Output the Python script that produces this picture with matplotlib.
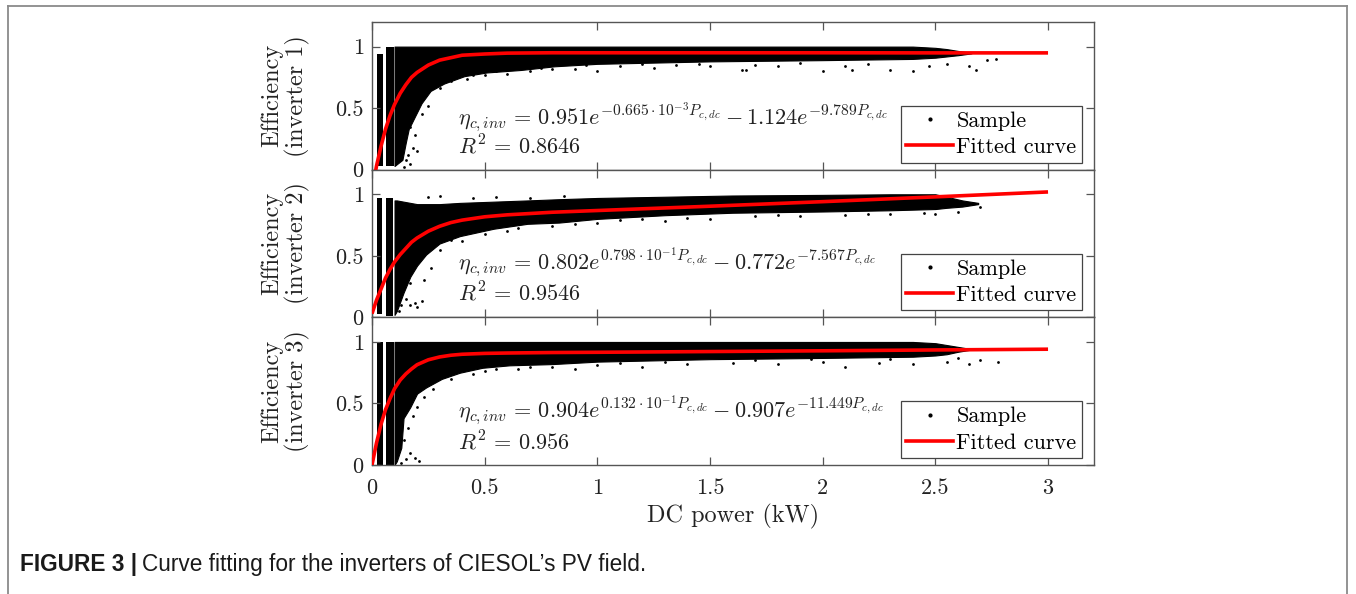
import matplotlib
matplotlib.use("Agg")
import matplotlib.pyplot as plt
from matplotlib.lines import Line2D
import numpy as np

plt.rcParams['font.family'] = 'serif'
plt.rcParams['font.serif'] = ['cmr10']
plt.rcParams['mathtext.fontset'] = 'cm'
plt.rcParams['axes.unicode_minus'] = False
plt.rcParams['axes.formatter.use_mathtext'] = True

# fitted curves
fit_x = [0, 0.02, 0.04, 0.06, 0.08, 0.1, 0.125, 0.15, 0.175, 0.2, 0.25, 0.3,
         0.35, 0.4, 0.5, 0.6, 0.8, 1.0, 1.5, 2.0, 2.5, 3.0]
fit_1 = [-0.17, 0.03, 0.19, 0.33, 0.44, 0.53, 0.62, 0.69, 0.75, 0.79, 0.85, 0.89,
         0.91, 0.93, 0.94, 0.947, 0.95, 0.95, 0.95, 0.95, 0.949, 0.949]
fit_2 = [0.03, 0.14, 0.23, 0.32, 0.39, 0.45, 0.51, 0.56, 0.61, 0.645, 0.70, 0.74,
         0.77, 0.79, 0.817, 0.833, 0.854, 0.868, 0.903, 0.94, 0.979, 1.019]
fit_3 = [0.0, 0.18, 0.33, 0.45, 0.54, 0.62, 0.69, 0.74, 0.78, 0.815, 0.855, 0.878,
         0.892, 0.90, 0.907, 0.91, 0.914, 0.916, 0.922, 0.928, 0.935, 0.941]

# dense sample cloud: envelope of the black band
band1_x = [0.100, 0.135, 0.15, 0.163, 0.19, 0.22, 0.26, 0.32, 0.41, 0.51, 0.66, 0.81,
           1.0, 1.5, 2.0, 2.4, 2.5, 2.55, 2.6, 2.66]
band1_lo = [0.03, 0.08, 0.22, 0.33, 0.43, 0.54, 0.64, 0.70, 0.76, 0.79, 0.81, 0.84,
            0.86, 0.88, 0.89, 0.90, 0.91, 0.92, 0.93, 0.945]
band1_hi = [1.0, 1.0, 1.0, 1.0, 1.0, 1.0, 1.0, 1.0, 1.0, 1.0, 1.0, 1.0,
            1.0, 1.0, 1.0, 1.0, 0.99, 0.98, 0.965, 0.95]

band2_x = [0.1, 0.11, 0.14, 0.17, 0.2, 0.24, 0.3, 0.39, 0.54, 0.69, 0.83, 1.0,
           1.3, 1.6, 2.0, 2.3, 2.5, 2.55, 2.62, 2.69]
band2_lo = [0.02, 0.05, 0.20, 0.33, 0.42, 0.51, 0.60, 0.66, 0.72, 0.76, 0.77, 0.80,
            0.83, 0.85, 0.86, 0.87, 0.88, 0.89, 0.90, 0.92]
band2_hi = [0.95, 0.95, 0.94, 0.93, 0.92, 0.92, 0.92, 0.93, 0.94, 0.95, 0.96, 0.97,
            0.98, 0.99, 0.995, 1.0, 1.0, 0.98, 0.95, 0.93]

band3_x = [0.1, 0.11, 0.13, 0.14, 0.17, 0.2, 0.24, 0.31, 0.39, 0.49, 0.61, 0.8,
           1.0, 1.5, 2.0, 2.4, 2.5, 2.55, 2.6, 2.65]
band3_lo = [0.0, 0.03, 0.14, 0.38, 0.47, 0.58, 0.63, 0.70, 0.75, 0.79, 0.81, 0.82,
            0.84, 0.86, 0.87, 0.88, 0.89, 0.90, 0.92, 0.935]
band3_hi = [1.0, 1.0, 1.0, 1.0, 1.0, 1.0, 1.0, 1.0, 1.0, 1.0, 1.0, 1.0,
            1.0, 1.0, 1.0, 1.0, 0.99, 0.975, 0.96, 0.945]

# vertical spikes at very low power: left edge, right edge, bottom, top
spike1_x0 = [0.02, 0.064]
spike1_x1 = [0.05, 0.097]
spike1_lo = [0.03, 0.03]
spike1_hi = [0.94, 1.0]

spike2_x0 = [0.021, 0.061]
spike2_x1 = [0.045, 0.095]
spike2_lo = [0.03, 0.01]
spike2_hi = [0.97, 0.97]

spike3_x0 = [0.021, 0.063]
spike3_x1 = [0.05, 0.097]
spike3_lo = [0.0, 0.0]
spike3_hi = [1.0, 1.0]

# scattered samples outside the band
out1_x = [0.14, 0.15, 0.16, 0.17, 0.18, 0.2, 0.13, 0.15, 0.17, 0.19, 0.22, 0.25,
          0.3, 0.35, 0.42, 0.5, 0.6, 0.7, 0.8, 0.9, 1.0, 1.1, 1.25, 1.35, 1.5,
          1.64, 1.66, 1.8, 2.0, 2.1, 2.13, 2.3, 2.4, 2.47, 2.65, 2.68, 2.73, 2.77,
          0.45, 0.55, 0.75, 0.95, 1.2, 1.45, 1.7, 1.9, 2.2, 2.55]
out1_y = [0.02, 0.08, 0.12, 0.05, 0.18, 0.15, 0.22, 0.3, 0.35, 0.28, 0.45, 0.52,
          0.66, 0.72, 0.74, 0.77, 0.78, 0.80, 0.82, 0.82, 0.80, 0.84, 0.83, 0.85, 0.84,
          0.81, 0.81, 0.84, 0.80, 0.84, 0.81, 0.81, 0.80, 0.84, 0.84, 0.81, 0.89, 0.90,
          0.77, 0.80, 0.83, 0.85, 0.86, 0.86, 0.85, 0.87, 0.86, 0.86]

out2_x = [0.12, 0.13, 0.15, 0.17, 0.19, 0.22, 0.2, 0.23, 0.26, 0.17,
          0.3, 0.4, 0.5, 0.6, 0.8, 1.0, 1.2, 1.3, 1.5, 1.7, 1.9, 2.1, 2.3, 2.45,
          2.6, 2.7, 0.25, 0.3, 0.45, 0.55, 0.7, 0.85,
          0.35, 0.65, 0.9, 1.1, 1.4, 1.8, 2.2, 2.5]
out2_y = [0.05, 0.10, 0.15, 0.10, 0.12, 0.13, 0.08, 0.30, 0.40, 0.28,
          0.55, 0.62, 0.68, 0.70, 0.74, 0.77, 0.80, 0.78, 0.80, 0.82, 0.82, 0.83, 0.84, 0.85,
          0.86, 0.90, 0.98, 0.99, 0.97, 0.98, 0.97, 0.99,
          0.63, 0.73, 0.76, 0.79, 0.81, 0.83, 0.84, 0.84]

out3_x = [0.13, 0.15, 0.17, 0.19, 0.21, 0.14, 0.16, 0.18, 0.2, 0.23, 0.27,
          0.35, 0.45, 0.55, 0.65, 0.8, 0.9, 1.0, 1.2, 1.4, 1.6, 1.8, 2.0, 2.1,
          2.25, 2.4, 2.55, 2.65, 2.7, 2.78,
          0.5, 0.7, 1.1, 1.3, 1.7, 1.95, 2.3, 2.6]
out3_y = [0.02, 0.05, 0.10, 0.06, 0.03, 0.20, 0.30, 0.40, 0.47, 0.55, 0.62,
          0.70, 0.74, 0.78, 0.78, 0.80, 0.78, 0.81, 0.80, 0.82, 0.83, 0.82, 0.84, 0.80,
          0.83, 0.82, 0.84, 0.82, 0.85, 0.84,
          0.76, 0.80, 0.83, 0.84, 0.85, 0.86, 0.86, 0.87]

panel_names = ['Efficiency\n(inverter 1)', 'Efficiency\n(inverter 2)', 'Efficiency\n(inverter 3)']
equations = [
    r'$\eta_{c,inv}\,=\,0.951e^{-0.665\cdot10^{-3}P_{c,dc}}-1.124e^{-9.789P_{c,dc}}$',
    r'$\eta_{c,inv}\,=\,0.802e^{0.798\cdot10^{-1}P_{c,dc}}-0.772e^{-7.567P_{c,dc}}$',
    r'$\eta_{c,inv}\,=\,0.904e^{0.132\cdot10^{-1}P_{c,dc}}-0.907e^{-11.449P_{c,dc}}$',
]
r2_texts = [r'$R^2\,=\,0.8646$', r'$R^2\,=\,0.9546$', r'$R^2\,=\,0.956$']
eq_y = [0.37, 0.39, 0.385]
r2_y = [0.125, 0.13, 0.125]
x_ticks = [0, 0.5, 1, 1.5, 2, 2.5, 3]
x_tick_labels = ['0', '0.5', '1', '1.5', '2', '2.5', '3']
y_ticks = [0, 0.5, 1]
y_tick_labels = ['0', '0.5', '1']

fits = [fit_1, fit_2, fit_3]
bands = [(band1_x, band1_lo, band1_hi), (band2_x, band2_lo, band2_hi), (band3_x, band3_lo, band3_hi)]
spikes = [(spike1_x0, spike1_x1, spike1_lo, spike1_hi),
          (spike2_x0, spike2_x1, spike2_lo, spike2_hi),
          (spike3_x0, spike3_x1, spike3_lo, spike3_hi)]
outliers = [(out1_x, out1_y), (out2_x, out2_y), (out3_x, out3_y)]

W, H = 1356, 594
fig = plt.figure(figsize=(W / 100, H / 100), dpi=100)

# light frame around the figure
frame_col = '#8a8a8a'
fig.add_artist(Line2D([8 / W, 8 / W], [0, 1 - 6 / H], color=frame_col, lw=1.3))
fig.add_artist(Line2D([8 / W, 1347 / W], [1 - 6 / H, 1 - 6 / H], color=frame_col, lw=1.3))
fig.add_artist(Line2D([1347 / W, 1347 / W], [0, 1 - 6 / H], color=frame_col, lw=1.3))

left = 372 / W
width = (1094 - 372) / W
ph = (465 - 22) / 3 / H
bottom0 = (H - 465) / H
axcol = '#555555'
txtcol = '#222222'

for i in range(3):
    ax = fig.add_axes([left, bottom0 + (2 - i) * ph, width, ph])
    bx, blo, bhi = bands[i]
    ax.fill_between(bx, blo, bhi, color='black', lw=0.8, edgecolor='black', zorder=1)
    x0, x1, lo, hi = spikes[i]
    ax.bar(x0, np.array(hi) - np.array(lo), width=np.array(x1) - np.array(x0),
           bottom=lo, align='edge', color='black', zorder=1)
    ox, oy = outliers[i]
    ax.scatter(ox, oy, s=4, color='black', lw=0, zorder=1)
    ax.plot(fit_x, fits[i], color='#ff0000', lw=2.6, zorder=3, solid_capstyle='butt')

    ax.set_xlim(0, 3.204)
    ax.set_ylim(0, 1.2)
    ax.set_xticks(x_ticks)
    ax.set_yticks(y_ticks)
    ax.set_yticklabels(y_tick_labels)
    ax.tick_params(direction='in', top=True, right=True, length=6, width=0.9,
                   color=axcol, labelsize=16, labelcolor=txtcol, pad=6)
    ax.tick_params(axis='x', pad=10)
    for s in ax.spines.values():
        s.set_color(axcol)
        s.set_linewidth(1.0)
    if i < 2:
        ax.tick_params(labelbottom=False)
    else:
        ax.set_xticklabels(x_tick_labels)
        ax.set_xlabel('DC power (kW)', fontsize=17.5, color=txtcol, labelpad=4)

    ax.text(-0.12, 0.5, panel_names[i], transform=ax.transAxes, rotation=90,
            ha='center', va='center', multialignment='center', fontsize=17.5,
            linespacing=1.05, color=txtcol)
    ax.text(0.38, eq_y[i], equations[i], fontsize=16, va='baseline', ha='left', color=txtcol)
    ax.text(0.38, r2_y[i], r2_texts[i], fontsize=16, va='baseline', ha='left', color=txtcol)

    handles = [Line2D([], [], ls='none', marker='.', color='black', markersize=4),
               Line2D([], [], color='#ff0000', lw=2.6)]
    leg = ax.legend(handles, ['Sample', 'Fitted curve'], loc='lower right',
                    bbox_to_anchor=(0.9834, 0.047), borderaxespad=0, fontsize=16,
                    frameon=True, fancybox=False, edgecolor='#444444', framealpha=1,
                    handlelength=2.1, handletextpad=0.15, borderpad=0.25,
                    labelspacing=0.3)
    leg.get_frame().set_linewidth(0.9)

# caption
fig.canvas.draw()
cap_y = 1 - 565 / H
t1 = fig.text(20 / W, cap_y, 'FIGURE 3 |', fontsize=16.3, fontweight='bold',
              family='Liberation Sans', color='#1a1a1a', va='center', ha='left')
fig.canvas.draw()
bb = t1.get_window_extent()
fig.text(bb.x1 / W + 5 / W, cap_y, 'Curve fitting for the inverters of CIESOL\u2019s PV field.',
         fontsize=16.3, family='Liberation Sans', color='#1a1a1a', va='center', ha='left')

fig.savefig('out.png', dpi=100)
